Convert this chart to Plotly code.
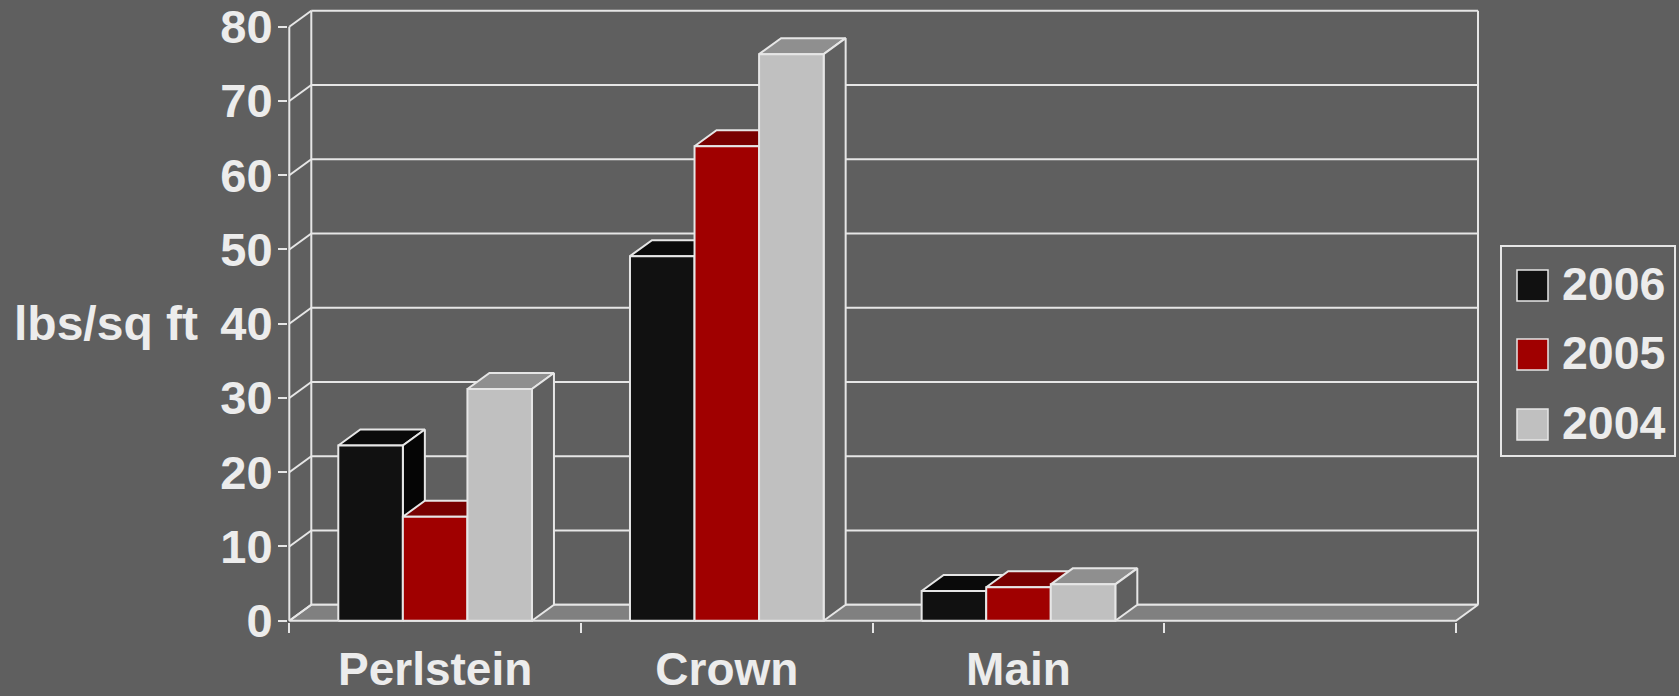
import plotly.graph_objects as go

# ---------------- data ----------------
categories = ["Perlstein", "Crown", "Main"]
n_slots = 4                      # the category axis has an empty 4th slot
series_names = ["2006", "2005", "2004"]
values_2006 = [23.6, 49.1, 4.0]
values_2005 = [14.0, 63.9, 4.5]
values_2004 = [31.2, 76.3, 4.9]
y_ticks = [0, 10, 20, 30, 40, 50, 60, 70, 80]
y_title = "lbs/sq ft"

series_values = [values_2006, values_2005, values_2004]

# ---------------- style ----------------
BG = "#5f5f5f"
FLOOR = "#808080"
LINE = "#e6e6e6"
TEXT = "#ececec"
FONT = "Liberation Sans, Arial, sans-serif"
front_colors = ["#111111", "#a00000", "#c0c0c0"]
top_colors = ["#0a0a0a", "#780000", "#8f8f8f"]
side_colors = ["#050505", "#5a0000", "#606060"]
bar_gap = 0.336

# ---------------- layout geometry (pixels) ----------------
W, H = 1679, 696
L, R, T, B = 288, 200, 9, 74
front_left_px, front_right_px = 289.3, 1456.0
front_zero_px, front_top_px = 620.7, 26.7
depth_dx_px, depth_dy_px = 22.0, 16.0

px_per_x = (front_right_px - front_left_px) / n_slots
px_per_y = (front_zero_px - front_top_px) / y_ticks[-1]
x0 = -0.5
x1 = n_slots - 0.5
xr0 = x0 - (front_left_px - L) / px_per_x
xr1 = xr0 + (W - L - R) / px_per_x
yr0 = -((H - B) - front_zero_px) / px_per_y
yr1 = yr0 + (H - T - B) / px_per_y
dxd = depth_dx_px / px_per_x
dyd = depth_dy_px / px_per_y
ymax = y_ticks[-1]


def poly(xs, ys, fill, width=2):
    return go.Scatter(
        x=list(xs) + [xs[0]], y=list(ys) + [ys[0]], mode="lines",
        fill="toself", fillcolor=fill,
        line=dict(color=LINE, width=width),
        hoverinfo="skip", showlegend=False,
    )


def lines(segs, width=2):
    xs, ys = [], []
    for (xa, ya), (xb, yb) in segs:
        xs += [xa, xb, None]
        ys += [ya, yb, None]
    return go.Scatter(x=xs, y=ys, mode="lines", line=dict(color=LINE, width=width),
                      hoverinfo="skip", showlegend=False)


fig = go.Figure()

# back wall: gridlines + verticals
wall = [((x0 + dxd, v + dyd), (x1 + dxd, v + dyd)) for v in y_ticks]
wall += [((x0 + dxd, dyd), (x0 + dxd, ymax + dyd)),
         ((x1 + dxd, dyd), (x1 + dxd, ymax + dyd))]
fig.add_trace(lines(wall))

# floor
fig.add_trace(poly([x0, x1, x1 + dxd, x0 + dxd], [0, 0, dyd, dyd], FLOOR))

# side wall edges + front value axis line
side = [((x0, v), (x0 + dxd, v + dyd)) for v in y_ticks]
side += [((x0, 0), (x0, ymax))]
fig.add_trace(lines(side))

# 3-D columns (painter's order, left to right)
n_series = len(series_values)
bw = (1 - bar_gap) / n_series
for c in range(len(categories)):
    for i, vals in enumerate(series_values):
        h = vals[c]
        left = c - n_series * bw / 2 + i * bw
        right = left + bw
        fig.add_trace(poly([left, right, right + dxd, left + dxd],
                           [h, h, h + dyd, h + dyd], top_colors[i]))
        fig.add_trace(poly([right, right, right + dxd, right + dxd],
                           [0, h, h + dyd, dyd], side_colors[i]))
        fig.add_trace(poly([left, right, right, left], [0, 0, h, h], front_colors[i]))

# ---------------- manual legend ----------------
def px2paper_x(px):
    return (px - L) / (W - L - R)


def px2paper_y(py):
    return ((H - B) - py) / (H - T - B)


shapes = [dict(type="rect", xref="paper", yref="paper",
               x0=px2paper_x(1501), x1=px2paper_x(1675),
               y0=px2paper_y(456), y1=px2paper_y(246),
               line=dict(color=LINE, width=2), fillcolor=BG, layer="above")]
annotations = []
leg_centers = [285.5, 354.5, 424.5]
for i, name in enumerate(series_names):
    cy = leg_centers[i]
    shapes.append(dict(type="rect", xref="paper", yref="paper",
                       x0=px2paper_x(1517), x1=px2paper_x(1548),
                       y0=px2paper_y(cy + 15.5), y1=px2paper_y(cy - 15.5),
                       line=dict(color=LINE, width=1.5), fillcolor=front_colors[i],
                       layer="above"))
    annotations.append(dict(xref="paper", yref="paper", x=px2paper_x(1560),
                            y=px2paper_y(cy - 2), xanchor="left", yanchor="middle",
                            text=name, showarrow=False,
                            font=dict(family=FONT, size=46.5, color=TEXT, weight="bold")))

annotations.append(dict(xref="paper", yref="y", x=px2paper_x(200), y=40,
                        xanchor="right", yanchor="middle", text=y_title, showarrow=False,
                        font=dict(family=FONT, size=48, color=TEXT, weight="bold")))

fig.update_layout(
    width=W, height=H, autosize=False,
    margin=dict(l=L, r=R, t=T, b=B, pad=0, autoexpand=False),
    paper_bgcolor=BG, plot_bgcolor=BG,
    showlegend=False,
    shapes=shapes, annotations=annotations,
    xaxis=dict(range=[xr0, xr1], tickmode="array", tickvals=list(range(len(categories))),
               ticktext=categories, ticks="", showgrid=False, zeroline=False,
               showline=False, ticklabelstandoff=16, automargin=False,
               tickfont=dict(family=FONT, size=46, color=TEXT, weight="bold"),
               minor=dict(tickmode="array", tickvals=[x0 + k for k in range(n_slots + 1)],
                          ticks="outside", ticklen=10, tickwidth=2, tickcolor=LINE,
                          showgrid=False),
               fixedrange=True),
    yaxis=dict(range=[yr0, yr1], tickmode="array", tickvals=y_ticks,
               ticks="outside", ticklen=9, tickwidth=2, tickcolor=LINE,
               showgrid=False, zeroline=False, showline=False, automargin=False,
               ticklabelstandoff=-4,
               tickfont=dict(family=FONT, size=47, color=TEXT, weight="bold"),
               fixedrange=True),
)

fig.write_html("out.html")
